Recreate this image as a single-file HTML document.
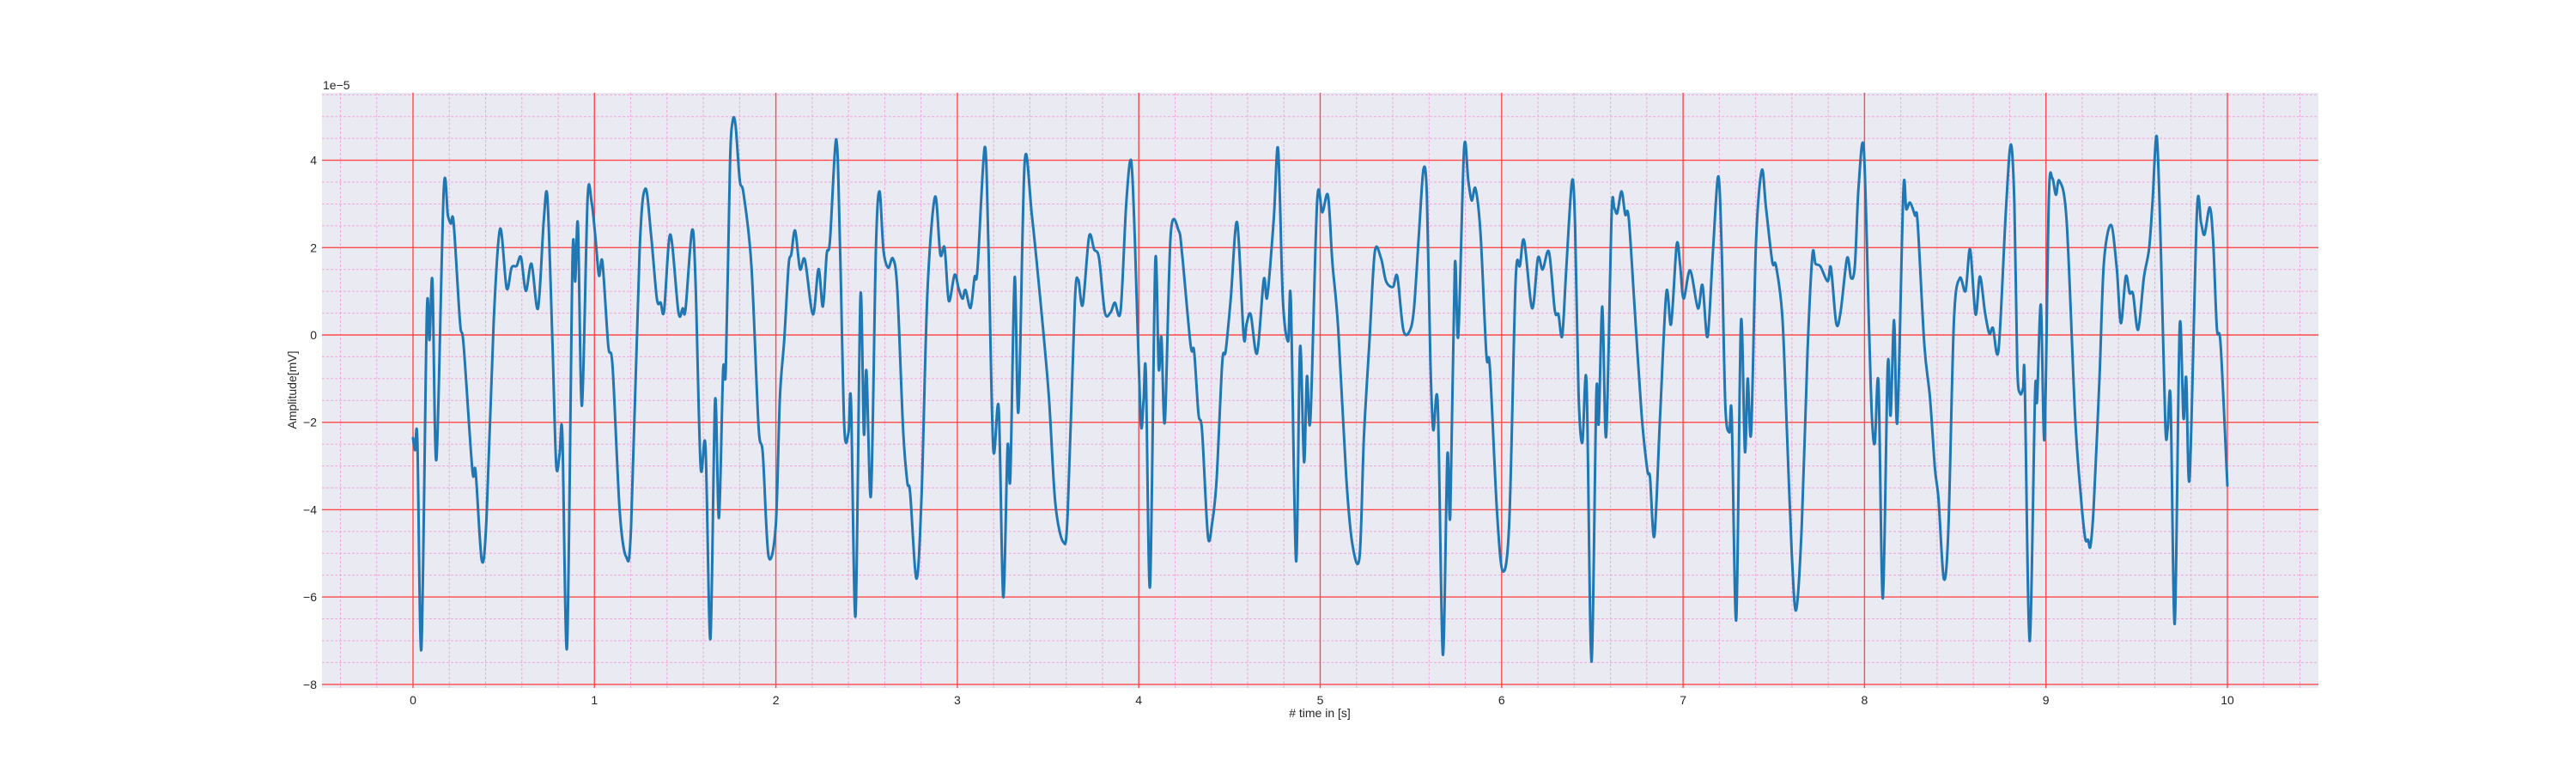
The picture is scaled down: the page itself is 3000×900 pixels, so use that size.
<!DOCTYPE html>
<html><head><meta charset="utf-8"><style>
html,body{margin:0;padding:0;background:#fff;}
svg{display:block;font-family:"Liberation Sans",sans-serif;}
</style></head><body>
<svg id="chart" width="3000" height="900" viewBox="0 0 3000 900" xmlns="http://www.w3.org/2000/svg">
<rect x="375" y="108" width="2325" height="693" fill="#eaeaf2"/>
<g id="minor-grid"></g>
<g id="major-grid"></g>
<g id="series"></g>
<g id="xticks"></g>
<g id="yticks"></g>
<text x="376" y="104" font-size="14" fill="#262626">1e−5</text>
<text x="1537" y="835" font-size="14" fill="#262626" text-anchor="middle"># time in [s]</text>
<text x="0" y="0" font-size="14" fill="#262626" text-anchor="middle" transform="translate(345,454) rotate(-90)">Amplitude[mV]</text>
</svg>
<script>
const xTicks = [0,1,2,3,4,5,6,7,8,9,10];
const yTicks = [-8,-6,-4,-2,0,2,4];
const yTickLabels = ["−8","−6","−4","−2","0","2","4"];
const times = [0,0.011,0.024,0.046,0.076,0.091,0.107,0.129,0.169,0.192,0.208,0.224,0.259,0.279,0.327,0.345,0.379,0.405,0.445,0.480,0.516,0.543,0.571,0.595,0.622,0.653,0.689,0.721,0.741,0.768,0.789,0.808,0.823,0.849,0.879,0.894,0.909,0.931,0.962,0.984,1.005,1.025,1.044,1.076,1.100,1.139,1.175,1.202,1.249,1.281,1.313,1.344,1.365,1.384,1.418,1.463,1.486,1.502,1.538,1.557,1.585,1.612,1.639,1.665,1.686,1.709,1.724,1.747,1.762,1.778,1.801,1.822,1.865,1.904,1.928,1.959,1.999,2.022,2.046,2.070,2.085,2.106,2.133,2.160,2.204,2.235,2.259,2.280,2.298,2.333,2.354,2.377,2.400,2.414,2.439,2.466,2.485,2.499,2.524,2.551,2.571,2.593,2.619,2.645,2.669,2.701,2.724,2.740,2.775,2.803,2.835,2.877,2.906,2.930,2.953,2.985,3.008,3.029,3.045,3.073,3.095,3.111,3.151,3.171,3.198,3.228,3.253,3.277,3.292,3.316,3.337,3.371,3.411,3.466,3.505,3.540,3.584,3.608,3.647,3.666,3.691,3.726,3.754,3.781,3.813,3.845,3.868,3.900,3.931,3.958,3.979,4.010,4.026,4.039,4.062,4.091,4.110,4.125,4.144,4.176,4.220,4.239,4.286,4.305,4.329,4.349,4.381,4.405,4.429,4.460,4.479,4.507,4.542,4.578,4.594,4.617,4.652,4.689,4.708,4.744,4.768,4.794,4.823,4.838,4.867,4.889,4.911,4.927,4.946,4.983,5.012,5.043,5.067,5.099,5.143,5.177,5.217,5.241,5.272,5.301,5.335,5.363,5.401,5.425,5.458,5.493,5.517,5.544,5.569,5.588,5.607,5.623,5.648,5.676,5.701,5.717,5.742,5.761,5.793,5.816,5.835,5.856,5.884,5.916,5.935,5.974,6.006,6.042,6.077,6.101,6.124,6.168,6.200,6.226,6.261,6.293,6.313,6.334,6.356,6.388,6.405,6.424,6.445,6.468,6.495,6.522,6.535,6.555,6.576,6.606,6.621,6.637,6.661,6.681,6.700,6.732,6.771,6.803,6.818,6.842,6.874,6.908,6.934,6.965,6.984,7.003,7.039,7.082,7.107,7.135,7.165,7.194,7.213,7.233,7.255,7.268,7.293,7.319,7.341,7.356,7.375,7.402,7.434,7.457,7.492,7.512,7.547,7.572,7.599,7.623,7.654,7.686,7.713,7.730,7.757,7.797,7.815,7.844,7.868,7.904,7.926,7.947,7.967,7.996,8.025,8.041,8.057,8.077,8.101,8.128,8.144,8.163,8.181,8.214,8.230,8.251,8.278,8.293,8.330,8.361,8.388,8.408,8.437,8.462,8.493,8.525,8.557,8.582,8.612,8.636,8.664,8.688,8.708,8.739,8.779,8.806,8.826,8.842,8.858,8.874,8.883,8.910,8.940,8.951,8.972,8.992,9.016,9.035,9.055,9.074,9.114,9.161,9.192,9.216,9.232,9.245,9.263,9.295,9.319,9.358,9.390,9.413,9.440,9.461,9.480,9.508,9.540,9.568,9.587,9.611,9.634,9.658,9.671,9.687,9.710,9.737,9.758,9.773,9.792,9.832,9.855,9.874,9.903,9.922,9.942,9.963,10.000];
const values = [-2.36,-2.64,-2.42,-7.19,0.47,-0.11,1.23,-2.85,3.29,2.74,2.55,2.56,0.29,-0.24,-3.09,-3.13,-5.16,-4.2,0.34,2.43,1.07,1.54,1.58,1.78,1.01,1.63,0.61,2.65,3.12,-0.11,-2.96,-2.73,-2.29,-7.14,1.72,1.23,2.52,-1.62,3.10,3.05,2.25,1.36,1.67,-0.24,-0.73,-4.02,-5.08,-4.38,1.94,3.35,2.25,0.83,0.74,0.56,2.30,0.52,0.61,0.59,2.40,1.23,-3.00,-2.56,-6.96,-1.49,-4.19,-0.82,-0.77,3.90,4.90,4.79,3.54,3.23,1.59,-2.07,-2.73,-5.05,-4.38,-1.44,-0.11,1.59,1.85,2.39,1.51,1.72,0.47,1.51,0.65,1.85,2.16,4.48,1.94,-2.11,-2.24,-1.53,-6.43,0.89,-2.26,-0.82,-3.67,1.94,3.29,1.94,1.54,1.75,1.05,-2.15,-3.36,-3.62,-5.58,-3.67,0.96,3.16,1.85,1.99,0.78,1.38,1.05,0.83,1.03,0.62,1.32,1.50,4.30,2.12,-2.60,-1.67,-6.00,-2.56,-3.27,1.32,-1.75,3.94,2.74,0.43,-1.44,-3.85,-4.74,-4.11,0.69,1.27,0.69,2.25,1.96,1.76,0.52,0.52,0.74,0.56,3.01,3.99,2.12,-1.93,-1.53,-0.86,-5.76,1.67,-0.77,-0.06,-1.98,2.30,2.39,1.85,-0.24,-0.37,-1.80,-2.20,-4.60,-4.29,-3.31,-0.64,-0.37,0.83,2.58,-0.02,0.25,0.47,-0.42,1.27,0.87,2.65,4.26,0.83,-0.15,0.80,-5.18,-0.28,-2.91,-0.95,-1.93,3.05,2.81,3.19,1.67,0.16,-3.22,-4.78,-5.08,-2.33,-0.11,1.90,1.76,1.23,1.10,1.34,0.12,0.09,0.61,2.30,3.79,3.19,-0.55,-2.17,-1.60,-7.32,-2.76,-4.11,1.59,-0.02,4.26,3.54,3.08,3.35,2.30,-0.46,-0.73,-4.02,-5.41,-4.29,1.23,1.59,2.16,0.61,1.76,1.50,1.90,0.56,0.47,-0.02,1.50,3.53,2.48,-1.35,-2.47,-1.10,-7.48,-1.35,-2.02,0.65,-2.32,2.74,2.90,2.79,3.29,2.76,2.70,0.69,-1.80,-3.09,-3.27,-4.60,-1.80,0.98,0.25,2.07,1.59,0.83,1.48,0.61,1.14,-0.04,1.94,3.63,1.94,-1.62,-2.23,-1.84,-6.52,0.29,-2.67,-1.00,-2.24,2.12,3.77,2.92,1.67,1.59,0.43,-2.15,-5.00,-6.30,-4.38,-0.37,1.83,1.63,1.57,1.23,1.54,0.27,0.52,1.76,1.30,1.59,3.37,4.26,0.16,-1.89,-2.47,-1.10,-6.03,-0.69,-1.84,0.34,-1.98,3.28,2.88,3.03,2.74,2.56,-0.24,-1.44,-3.05,-3.76,-5.58,-4.47,0.34,1.30,1.01,1.96,0.47,1.34,0.52,0.03,0.16,-0.33,2.83,4.36,3.01,-0.73,-1.34,-1.22,-1.07,-7.01,-1.35,-1.51,0.69,-2.38,3.14,3.59,3.21,3.53,2.61,-1.89,-3.67,-4.65,-4.69,-4.84,-3.94,-1.00,1.63,2.52,1.54,0.27,1.34,0.96,0.94,0.12,1.32,1.96,3.01,4.54,1.85,-2.07,-2.15,-1.49,-6.61,0.18,-1.91,-0.98,-3.27,2.81,2.56,2.30,2.92,2.12,0.16,-0.24,-3.45];

const NS='http://www.w3.org/2000/svg';
const PL=375, PR=2700, PT=108, PB=801;
function xs(t){ return 481 + t*211.3; }
function ys(v){ return 390 - v*50.85; }
function mk(tag, attrs, parent){ const e=document.createElementNS(NS,tag); for(const k in attrs) e.setAttribute(k, attrs[k]); parent.appendChild(e); return e; }

const minorG=document.getElementById('minor-grid');
for(let i=-2;i<=52;i++){
  const t=i*0.2; if(i%5===0) continue;
  const x=xs(t); if(x<PL||x>PR) continue;
  const l=mk('line',{x1:x,x2:x,y1:PT,y2:PB,stroke:'#f0a8dc','stroke-width':1,'stroke-dasharray':'3,2'},minorG);
  
  
}
for(let i=-16;i<=11;i++){
  const v=i*0.5; if(i%4===0) continue;
  const y=ys(v); if(y<PT||y>PB) continue;
  const l=mk('line',{x1:PL,x2:PR,y1:y,y2:y,stroke:'#f0a8dc','stroke-width':1,'stroke-dasharray':'3,2'},minorG);
  
  
}
const majorG=document.getElementById('major-grid');
const xtG=document.getElementById('xticks');
xTicks.forEach(t=>{
  const x=xs(t);
  const l=mk('line',{x1:x,x2:x,y1:PT,y2:PB,stroke:'#ff4a4a','stroke-width':1.4},majorG);
  
  
  const tx=mk('text',{x:x,y:820,'font-size':14,fill:'#262626','text-anchor':'middle'},xtG);
  tx.textContent=String(t);
  
  
});
const ytG=document.getElementById('yticks');
yTicks.forEach((v,i)=>{
  const y=ys(v);
  const l=mk('line',{x1:PL,x2:PR,y1:y,y2:y,stroke:'#ff4a4a','stroke-width':1.4},majorG);
  
  
  const tx=mk('text',{x:369,y:y+5,'font-size':14,fill:'#262626','text-anchor':'end'},ytG);
  tx.textContent=yTickLabels[i];
  
  
});

const pts=times.map((t,i)=>[xs(t),ys(values[i])]);
let d='M'+pts[0][0].toFixed(2)+','+pts[0][1].toFixed(2);
for(let i=0;i<pts.length-1;i++){
  const p0=pts[Math.max(0,i-1)], p1=pts[i], p2=pts[i+1], p3=pts[Math.min(pts.length-1,i+2)];
  const k=0.16;
  const c1=[p1[0]+(p2[0]-p0[0])*k, p1[1]+(p2[1]-p0[1])*k];
  const c2=[p2[0]-(p3[0]-p1[0])*k, p2[1]-(p3[1]-p1[1])*k];
  d+=' C'+c1[0].toFixed(2)+','+c1[1].toFixed(2)+' '+c2[0].toFixed(2)+','+c2[1].toFixed(2)+' '+p2[0].toFixed(2)+','+p2[1].toFixed(2);
}
const path=mk('path',{d:d,fill:'none',stroke:'#1f77b4','stroke-width':3,'stroke-linejoin':'round','stroke-linecap':'round'},document.getElementById('series'));


</script>
</body></html>
